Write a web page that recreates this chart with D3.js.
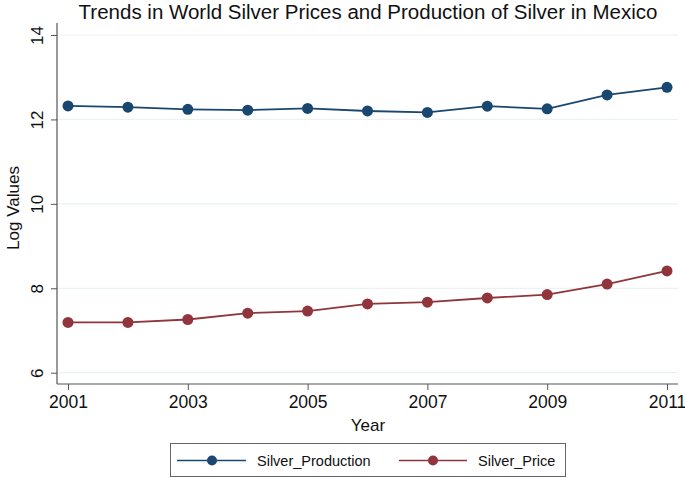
<!DOCTYPE html>
<html><head><meta charset="utf-8">
<script src="https://cdn.jsdelivr.net/npm/d3@7"></script>
<style>body{margin:0;background:#fff}svg{display:block}text{font-family:"Liberation Sans",Arial,sans-serif;fill:#111}</style>
</head><body><svg id="c" width="685" height="479"></svg>
<script>
const years = [2001,2002,2003,2004,2005,2006,2007,2008,2009,2010,2011];
const silverProduction = [12.32,12.29,12.24,12.22,12.26,12.20,12.165,12.315,12.25,12.58,12.76];
const silverPrice = [7.19,7.19,7.26,7.41,7.46,7.63,7.67,7.77,7.85,8.10,8.41];
const xTicks = [2001,2003,2005,2007,2009,2011];
const yTicks = [6,8,10,12,14];
const seriesNames = ["Silver_Production","Silver_Price"];
const colors = ["#1a476f","#90353b"];

(function(){
const svg = d3.select("#c");
const x = d3.scaleLinear().domain([2001,2011]).range([68,667]);
const y = d3.scaleLinear().domain([6,14]).range([372.7,35]);
const pL = 57, pR = 678, pT = 23, pB = 384;

// gridlines
svg.append("g").selectAll("line").data(yTicks).join("line")
  .attr("x1",pL).attr("x2",pR).attr("y1",d=>y(d)).attr("y2",d=>y(d))
  .attr("stroke","#eaf2f3").attr("stroke-width",1.2);

// y axis
const ya = svg.append("g").attr("transform",`translate(${pL},0)`)
  .call(d3.axisLeft(y).tickValues(yTicks).tickSize(6).tickPadding(4));
ya.select(".domain").remove();
ya.selectAll(".tick line").attr("stroke","#555");
ya.selectAll(".tick text").attr("x",null).attr("dy","0.35em")
  .attr("transform","translate(-20,0) rotate(-90)")
  .attr("text-anchor","middle").style("font-size","17px").style("font-family","Liberation Sans, Arial, sans-serif").attr("fill","#111");
svg.append("line").attr("x1",pL).attr("x2",pL).attr("y1",pT).attr("y2",pB).attr("stroke","#555").attr("stroke-width",1.2);

// x axis
const xa = svg.append("g").attr("transform",`translate(0,${pB})`)
  .call(d3.axisBottom(x).tickValues(xTicks).tickFormat(d3.format("d")).tickSize(6).tickPadding(6));
xa.select(".domain").remove();
xa.selectAll(".tick line").attr("stroke","#555");
xa.selectAll(".tick text").style("font-size","17.5px").style("font-family","Liberation Sans, Arial, sans-serif").attr("fill","#111");
svg.append("line").attr("x1",pL).attr("x2",pR).attr("y1",pB).attr("y2",pB).attr("stroke","#555").attr("stroke-width",1.2);

// lines & markers
const line = d3.line().x((d,i)=>x(years[i])).y(d=>y(d));
[silverProduction, silverPrice].forEach((s,k)=>{
  svg.append("path").datum(s).attr("d",line).attr("fill","none").attr("stroke",colors[k]).attr("stroke-width",1.8);
  svg.append("g").selectAll("circle").data(s).join("circle")
    .attr("cx",(d,i)=>x(years[i])).attr("cy",d=>y(d)).attr("r",5.5).attr("fill",colors[k]);
});

// title & axis labels
svg.append("text").attr("x",368).attr("y",19).attr("text-anchor","middle").style("font-size","20.5px")
  .text("Trends in World Silver Prices and Production of Silver in Mexico");
svg.append("text").attr("transform","translate(13,208) rotate(-90)").attr("text-anchor","middle").attr("dy","0.35em")
  .style("font-size","17px").text("Log Values");
svg.append("text").attr("x",368).attr("y",431).attr("text-anchor","middle").style("font-size","17px").text("Year");

// legend
svg.append("rect").attr("x",170.5).attr("y",443.5).attr("width",395).attr("height",33).attr("fill","#fff").attr("stroke","#666").attr("stroke-width",1);
const leg = [{x1:177,x2:246,cx:212,tx:257},{x1:399,x2:467,cx:433,tx:478}];
leg.forEach((l,k)=>{
  svg.append("line").attr("x1",l.x1).attr("x2",l.x2).attr("y1",460.5).attr("y2",460.5).attr("stroke",colors[k]).attr("stroke-width",1.6);
  svg.append("circle").attr("cx",l.cx).attr("cy",460.5).attr("r",5).attr("fill",colors[k]);
  svg.append("text").attr("x",l.tx).attr("y",460.5).attr("dy","0.35em").style("font-size","14.5px").text(seriesNames[k]);
});
})();
</script></body></html>
